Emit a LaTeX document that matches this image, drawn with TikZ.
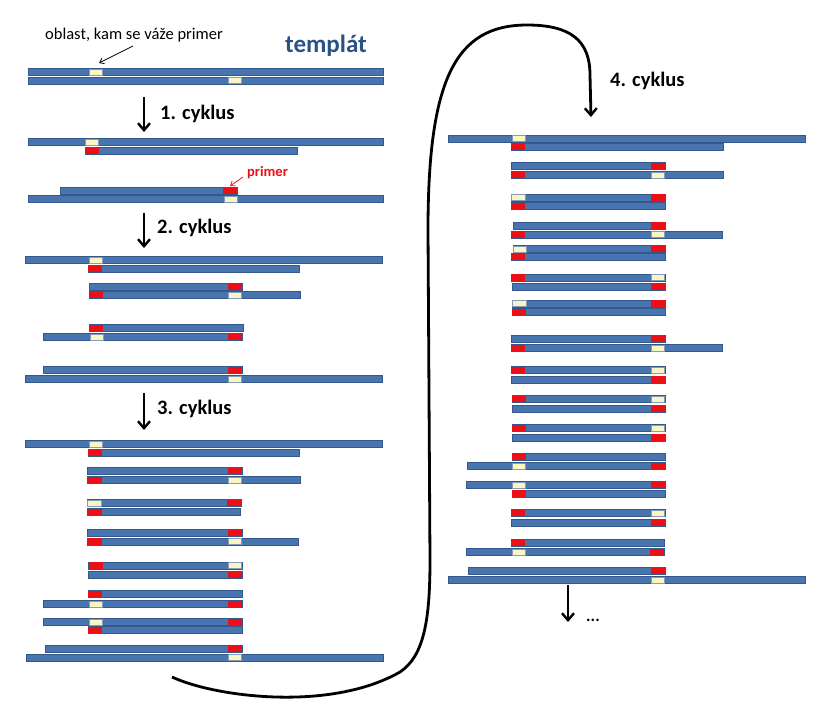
\documentclass[tikz,border=0pt]{standalone}
\usepackage{fontspec}
\setmainfont{Carlito}
\usetikzlibrary{arrows.meta}
\definecolor{dnablue}{RGB}{72,117,175}
\definecolor{dnaedge}{RGB}{52,88,138}
\definecolor{primred}{RGB}{236,16,22}
\definecolor{siteyel}{RGB}{250,246,196}
\definecolor{tplblue}{RGB}{42,82,132}
\tikzset{
  strand/.style={fill=dnablue, draw=dnaedge, line width=0.6pt},
  primerbox/.style={fill=primred, draw=none},
  sitebox/.style={fill=siteyel, draw=dnaedge!60, line width=0.4pt},
  cyclabel/.style={font=\fontsize{20.5}{24}\selectfont\bfseries, anchor=west, inner sep=0pt},
  cycarrow/.style={line width=2.4pt, -{Straight Barb[length=7pt,width=12pt,line width=2.4pt]}},
  thinarrow/.style={line width=0.8pt, -{Straight Barb[length=4pt,width=6pt]}},
}
\newcommand\dnaS[3]{\draw[strand] (#1,#3-3.3) rectangle (#2,#3+3.3);}
\newcommand\dnaR[2]{\fill[primerbox] (#1,#2-3.3) rectangle ++(14,6.6);}
\newcommand\dnaY[2]{\draw[sitebox] (#1,#2-3.0) rectangle ++(13.5,6.0);}
\begin{document}
\begin{tikzpicture}[x=1pt,y=-1pt]
\useasboundingbox (0,0) rectangle (833,716);
% labels
\node[anchor=west, inner sep=0pt, font=\fontsize{16.5}{19}\selectfont] (oblast) at (45,35) {oblast, kam se váže primer};
\node[anchor=west, inner sep=0pt, font=\fontsize{25}{29}\selectfont\bfseries, text=tplblue] (tpl) at (285,46) {templát};
\node[anchor=west, inner sep=0pt, font=\fontsize{14.5}{17}\selectfont\bfseries, text=primred] (primer) at (247,173) {primer};
\node[cyclabel] (c1) at (160,114) {1. cyklus};
\node[cyclabel] (c2) at (157,228) {2. cyklus};
\node[cyclabel] (c3) at (157,409) {3. cyklus};
\node[cyclabel] (c4) at (610,81) {4. cyklus};
\node[cyclabel, font=\fontsize{17}{20}\selectfont\bfseries] (dots) at (586,620) {...};
% arrow coordinates
\coordinate (o1) at (133,46); \coordinate (o2) at (99,63);
\coordinate (p1) at (243,177); \coordinate (p2) at (230,186);
\coordinate (a1s) at (144,97); \coordinate (a1e) at (144,132);
\coordinate (a2s) at (144,213); \coordinate (a2e) at (144,248);
\coordinate (a3s) at (144,393); \coordinate (a3e) at (144,430);
\coordinate (a4s) at (568,585); \coordinate (a4e) at (568,622);
\coordinate (cs) at (172,677); \coordinate (ce) at (591,117);
\draw[thinarrow] (o1) -- (o2);
\draw[thinarrow, primred] (p1) -- (p2);
\draw[cycarrow] (a1s) -- (a1e);
\draw[cycarrow] (a2s) -- (a2e);
\draw[cycarrow] (a3s) -- (a3e);
\draw[cycarrow] (a4s) -- (a4e);
\draw[cycarrow, line width=2.8pt] (cs) .. controls (215,697) and (330,712) .. (400,672)
  .. controls (424,656) and (430,620) .. (430,560)
  -- (428,230)
  .. controls (428,80) and (455,25) .. (527,25)
  .. controls (570,25) and (590,40) .. (590,75) -- (ce);
% template
\dnaS{28}{383}{72} \dnaY{89}{72}
\dnaS{28}{383}{80.5} \dnaY{228}{80.5}
% cycle 1
\dnaS{28}{383}{142} \dnaY{85}{142}
\dnaS{85}{297}{151} \dnaR{85}{151}
\dnaS{60}{237}{190.5} \dnaR{223}{190.5}
\dnaS{28}{383}{199} \dnaY{224}{199}
% cycle 2
\dnaS{25}{382}{260} \dnaY{89}{260}
\dnaS{88}{299}{269} \dnaR{88}{269}
\dnaS{89}{242}{286.5} \dnaR{228}{286.5}
\dnaS{89}{300}{295} \dnaR{89}{295} \dnaY{228}{295}
\dnaS{89}{243}{328} \dnaR{89}{328}
\dnaS{43}{242}{337} \dnaY{90}{337} \dnaR{228}{337}
\dnaS{43}{242}{370} \dnaR{228}{370}
\dnaS{25}{382}{379} \dnaY{228}{379}
% cycle 3
\dnaS{25}{382}{444} \dnaY{89}{444}
\dnaS{88}{299}{453} \dnaR{88}{453}
\dnaS{87}{242}{471} \dnaR{228}{471}
\dnaS{87}{300}{480} \dnaR{88}{480} \dnaY{228}{480}
\dnaS{87}{241}{503} \dnaY{87.5}{503} \dnaR{227}{503}
\dnaS{87}{240}{512} \dnaR{88}{512}
\dnaS{87}{242}{533} \dnaR{228}{533}
\dnaS{87}{298}{541.5} \dnaR{88}{541.5} \dnaY{228}{541.5}
\dnaS{88}{242}{565.5} \dnaR{89}{565.5} \dnaY{228}{565.5}
\dnaS{88}{242}{575} \dnaR{228}{575}
\dnaS{88}{242}{594} \dnaR{88}{594}
\dnaS{43}{242}{604} \dnaY{89}{604} \dnaR{228}{604}
\dnaS{43}{242}{622} \dnaY{89}{622} \dnaR{228}{622}
\dnaS{88}{242}{630} \dnaR{88}{630}
\dnaS{45}{242}{649} \dnaR{228}{649}
\dnaS{26}{383}{657.5} \dnaY{228}{657.5}
% cycle 4
\dnaS{448}{805}{138.5} \dnaY{512}{138.5}
\dnaS{511}{723}{147} \dnaR{511}{147}
\dnaS{511}{665}{166} \dnaR{651}{166}
\dnaS{511}{723}{175} \dnaR{511}{175} \dnaY{651}{175}
\dnaS{511}{665}{197.5} \dnaY{511.5}{197.5} \dnaR{651}{197.5}
\dnaS{511}{665}{206} \dnaR{511}{206}
\dnaS{513}{665}{225.5} \dnaR{651}{225.5}
\dnaS{511}{722}{234.5} \dnaR{511}{234.5} \dnaY{651}{234.5}
\dnaS{513}{665}{249} \dnaY{513}{249} \dnaR{651}{249}
\dnaS{511}{665}{256.5} \dnaR{511}{256.5}
\dnaS{511}{665}{277.5} \dnaR{511}{277.5} \dnaY{651}{277.5}
\dnaS{512}{665}{286.5} \dnaR{651}{286.5}
\dnaS{512}{665}{303.5} \dnaY{512.5}{303.5} \dnaR{651}{303.5}
\dnaS{512}{665}{312} \dnaR{512}{312}
\dnaS{511}{665}{339} \dnaR{651}{339}
\dnaS{511}{722}{348} \dnaR{511}{348} \dnaY{651}{348}
\dnaS{511}{665}{370} \dnaR{511}{370} \dnaY{651}{370}
\dnaS{511}{665}{379.5} \dnaR{651}{379.5}
\dnaS{512}{665}{399} \dnaR{512}{399} \dnaY{651}{399}
\dnaS{512}{665}{409} \dnaR{651}{409}
\dnaS{512}{665}{428} \dnaR{512}{428} \dnaY{651}{428}
\dnaS{512}{665}{437.5} \dnaR{651}{437.5}
\dnaS{512}{665}{457} \dnaR{512}{457}
\dnaS{467}{665}{466} \dnaY{512}{466} \dnaR{651}{466}
\dnaS{466}{665}{485} \dnaY{512}{485} \dnaR{651}{485}
\dnaS{512}{665}{493.5} \dnaR{512}{493.5}
\dnaS{511}{665}{513} \dnaR{511}{513} \dnaY{651}{513}
\dnaS{511}{665}{522.5} \dnaR{651}{522.5}
\dnaS{511}{664}{542.5} \dnaR{511}{542.5}
\dnaS{466}{664}{552} \dnaY{512}{552} \dnaR{650}{552}
\dnaS{468}{665}{571} \dnaR{651}{571}
\dnaS{448}{805}{580} \dnaY{651}{580}
\end{tikzpicture}
\end{document}
